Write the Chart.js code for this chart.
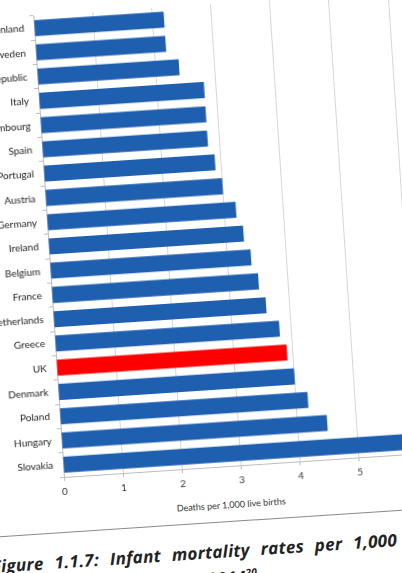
<!DOCTYPE html>
<html>
<head>
<meta charset="utf-8">
<script src="https://cdn.jsdelivr.net/npm/chart.js@4"></script>
<style>
  html, body { margin: 0; padding: 0; background: #fff; overflow: hidden; }
  body { width: 402px; height: 573px; position: relative; }
  /* the photo is tilted a little, so the whole page piece is turned round the axis origin */
  #sheet {
    position: absolute; left: -26px; top: 3px; width: 455px; height: 640px;
    transform-origin: 90px 474px; transform: rotate(-3.8deg);
  }
  #chart { position: absolute; left: 0; top: 0; }
  #xtitle {
    position: absolute; left: 190px; top: 507px; width: 130px; text-align: center;
    font: 9px Lato, sans-serif; color: #333; white-space: nowrap;
  }
  #rule { position: absolute; left: -120px; top: 529px; width: 700px; height: 1px; background: #8a8a8a; }
  #caption {
    position: absolute; left: 12px; top: 548px; width: 406px;
    font: italic 700 17px "Open Sans", sans-serif; color: #222; line-height: 22px;
    letter-spacing: 0.3px;
  }
  #caption .l1 { text-align: justify; text-align-last: justify; white-space: nowrap; }
  #caption .l2 { padding-left: 0; }
  #caption sup { font-size: 10px; }
</style>
</head>
<body>
<div id="sheet">
  <canvas id="chart" width="455" height="504"></canvas>
  <div id="xtitle">Deaths per 1,000 live births</div>
  <div id="rule"></div>
  <div id="caption">
    <div class="l1" style="white-space: normal;">Figure 1.1.7: Infant mortality rates per 1,000</div>
    <div class="l2">live births across Europe, 2014<sup>20</sup></div>
  </div>
</div>
<script>
// negara dan angka kematian bayi per 1.000 kelahiran hidup
const countries = ['Finland', 'Sweden', 'Czech Republic', 'Italy', 'Luxembourg', 'Spain', 'Portugal', 'Austria',
  'Germany', 'Ireland', 'Belgium', 'France', 'Netherlands', 'Greece', 'UK', 'Denmark', 'Poland', 'Hungary', 'Slovakia'];
const rates = [2.2, 2.2, 2.4, 2.8, 2.8, 2.8, 2.9, 3.0, 3.2, 3.3, 3.4, 3.5, 3.6, 3.8, 3.9, 4.0, 4.2, 4.5, 5.8];
const xTicks = [0, 1, 2, 3, 4, 5, 6];
const highlight = 'UK';

const blue = '#1f5fb0';
const red = '#fe0000';

const ctx = document.getElementById('chart').getContext('2d');
new Chart(ctx, {
  type: 'bar',
  data: {
    labels: countries,
    datasets: [{
      data: rates,
      backgroundColor: countries.map(c => c === highlight ? red : blue),
      borderWidth: 0,
      barPercentage: 0.66,
      categoryPercentage: 1
    }]
  },
  options: {
    indexAxis: 'y',
    responsive: false,
    animation: false,
    layout: { padding: { left: 0, right: 10, top: 10, bottom: 0 } },
    plugins: { legend: { display: false }, tooltip: { enabled: false } },
    scales: {
      x: {
        min: xTicks[0],
        max: xTicks[xTicks.length - 1],
        afterBuildTicks: s => { s.ticks = xTicks.map(v => ({ value: v })); },
        afterFit: s => { s.height = 30; },
        grid: { color: '#d6d6d6', lineWidth: 1, tickLength: 4, tickColor: '#bdbdbd' },
        border: { color: '#bdbdbd' },
        ticks: { color: '#333', font: { family: 'Lato', size: 10 }, padding: 5 }
      },
      y: {
        afterFit: s => { s.width = 90; },
        grid: { display: true, drawOnChartArea: false, tickLength: 4, tickColor: '#bdbdbd' },
        border: { color: '#bdbdbd' },
        ticks: { color: '#222', font: { family: 'Lato', size: 10 }, padding: 6, autoSkip: false }
      }
    }
  }
});
</script>
</body>
</html>
